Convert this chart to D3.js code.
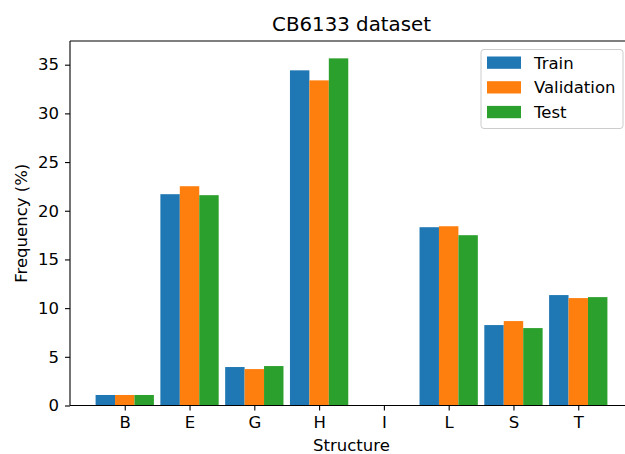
<!DOCTYPE html>
<html>
<head>
<meta charset="utf-8">
<script src="https://cdn.jsdelivr.net/npm/d3@7"></script>
<style>
  body { margin: 0; background: #fff; }
  svg { display: block; font-family: "DejaVu Sans", sans-serif; }
</style>
</head>
<body>
<svg id="chart" width="625" height="454"></svg>
<script>
// CB6133 secondary structure frequencies
var structures = ["B", "E", "G", "H", "I", "L", "S", "T"];
var train      = [1.08, 21.70, 3.95, 34.42, 0.03, 18.31, 8.26, 11.34];
var validation = [1.08, 22.52, 3.74, 33.39, 0.03, 18.41, 8.67, 11.03];
var test       = [1.08, 21.60, 4.05, 35.65, 0.03, 17.49, 7.95, 11.13];
var yTicks = [0, 5, 10, 15, 20, 25, 30, 35];

var series = [
    {name: "Train", values: train, color: "#1f77b4"},
    {name: "Validation", values: validation, color: "#ff7f0e"},
    {name: "Test", values: test, color: "#2ca02c"}
];

var svg = d3.select("#chart");
// axes box (right spine falls just outside the picture, like the reference)
var axLeft = 70, axRight = 633, axTop = 41, axBottom = 405.5;
var font = 16.5;
var tickLen = 5;
var barW = 0.3;

// matplotlib style auto margins: 5% of data span
var lo = -1.5 * barW, hi = structures.length - 1 + 1.5 * barW;
var pad = 0.05 * (hi - lo);
var x = d3.scaleLinear().domain([lo - pad, hi + pad]).range([axLeft, axRight]);

var ymax = d3.max(series, s => d3.max(s.values)) * 1.05;
var y = d3.scaleLinear().domain([0, ymax]).range([axBottom, axTop]);

// bars
series.forEach(function(s, k) {
    svg.append("g")
        .selectAll("rect")
        .data(s.values)
        .enter()
        .append("rect")
        .attr("x", (d, i) => x(i + (k - 1.5) * barW))
        .attr("width", x(barW) - x(0))
        .attr("y", d => y(d))
        .attr("height", d => y(0) - y(d))
        .attr("fill", s.color);
});

// spines
var spines = svg.append("g").attr("stroke", "#000").attr("stroke-width", 1.1);
spines.append("line").attr("x1", axLeft).attr("x2", axLeft).attr("y1", axTop).attr("y2", axBottom);
spines.append("line").attr("x1", axLeft).attr("x2", axRight).attr("y1", axBottom).attr("y2", axBottom);
spines.append("line").attr("x1", axLeft).attr("x2", axRight).attr("y1", axTop).attr("y2", axTop);
spines.append("line").attr("x1", axRight).attr("x2", axRight).attr("y1", axTop).attr("y2", axBottom);

// y axis
var yAxis = d3.axisLeft(y).tickValues(yTicks).tickSize(tickLen).tickPadding(6).tickFormat(d3.format("d"));
var gy = svg.append("g").attr("transform", "translate(" + axLeft + ",0)").call(yAxis);
gy.select(".domain").remove();
gy.selectAll("line").attr("stroke", "#000").attr("stroke-width", 1.1);
gy.selectAll("text").attr("font-size", font).attr("fill", "#000")
    .attr("font-family", "DejaVu Sans");

// x axis
var xAxis = d3.axisBottom(x).tickValues(d3.range(structures.length))
    .tickFormat(i => structures[i]).tickSize(tickLen).tickPadding(6);
var gx = svg.append("g").attr("transform", "translate(0," + axBottom + ")").call(xAxis);
gx.select(".domain").remove();
gx.selectAll("line").attr("stroke", "#000").attr("stroke-width", 1.1);
gx.selectAll("text").attr("font-size", font).attr("fill", "#000")
    .attr("font-family", "DejaVu Sans");

// labels
svg.append("text")
    .attr("x", (axLeft + axRight) / 2).attr("y", 31)
    .attr("text-anchor", "middle").attr("font-size", 19.8)
    .text("CB6133 dataset");

svg.append("text")
    .attr("x", (axLeft + axRight) / 2).attr("y", 451)
    .attr("text-anchor", "middle").attr("font-size", font)
    .text("Structure");

svg.append("text")
    .attr("transform", "translate(27," + (axTop + axBottom) / 2 + ") rotate(-90)")
    .attr("text-anchor", "middle").attr("font-size", font)
    .text("Frequency (%)");

// legend
var legend = svg.append("g").attr("transform", "translate(481,49.5)");
legend.append("rect")
    .attr("width", 142).attr("height", 79)
    .attr("rx", 3).attr("ry", 3)
    .attr("fill", "#fff").attr("fill-opacity", 0.8)
    .attr("stroke", "#cccccc").attr("stroke-width", 1);
series.forEach(function(s, k) {
    var row = legend.append("g").attr("transform", "translate(0," + (k * 24.7) + ")");
    row.append("rect")
        .attr("x", 6).attr("y", 7)
        .attr("width", 34).attr("height", 12.3)
        .attr("fill", s.color);
    row.append("text")
        .attr("x", 53).attr("y", 19)
        .attr("font-size", font)
        .text(s.name);
});
</script>
</body>
</html>
